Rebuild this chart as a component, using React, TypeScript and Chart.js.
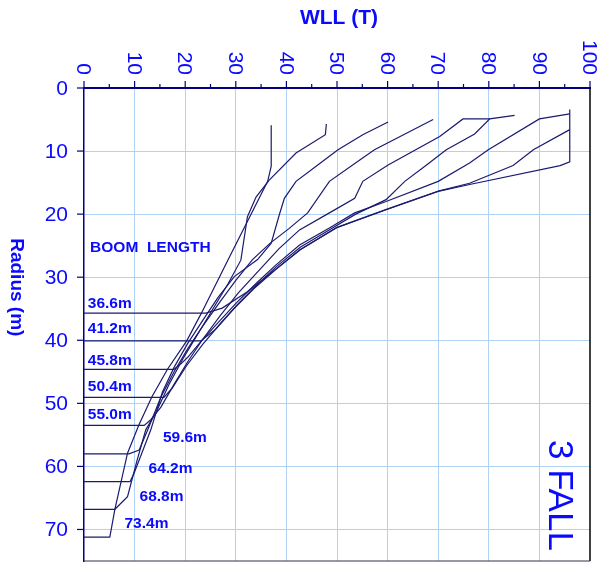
import React, { useEffect, useRef } from 'react';
import { Chart, registerables } from 'chart.js';

Chart.register(...registerables);

// ---- data ----
const boomLengths = ['36.6m', '41.2m', '45.8m', '50.4m', '55.0m', '59.6m', '64.2m', '68.8m', '73.4m'];
const xTicks = [0, 10, 20, 30, 40, 50, 60, 70, 80, 90, 100];
const yTicks = [0, 10, 20, 30, 40, 50, 60, 70];

const wll366 = [96, 96, 94.1, 76.2, 70, 59.7, 49.8, 42.6, 37.5, 32.3, 27.3, 24.1, 0];
const rad366 = [3.4, 11.7, 12.3, 15.3, 16.4, 19.3, 22.2, 25.7, 29.0, 32.3, 34.9, 35.7, 35.7];

const wll412 = [96, 88.8, 84.8, 76.2, 70.2, 59.9, 50.0, 42.8, 38.0, 33.6, 29.6, 26.1, 23.1, 0];
const rad412 = [6.6, 9.8, 12.3, 15.1, 16.3, 19.2, 22.1, 25.6, 28.7, 31.8, 35.0, 38.2, 40.1, 40.1];

const wll458 = [96, 90, 79.9, 76.2, 70, 59.7, 53.5, 48.5, 42.6, 38, 34, 30.2, 26.5, 23, 20.5, 19.2, 17.8, 0];
const rad458 = [4.1, 4.9, 9.8, 11.9, 14.8, 18, 19.8, 22.2, 24.9, 28, 31, 34, 37.2, 40.3, 42.7, 43.7, 44.6, 44.6];

const wll504 = [85.1, 80.2, 77.2, 71.6, 67.7, 63.4, 59.7, 53.7, 48.7, 42.8, 38.2, 34.2, 30.5, 27, 23.5, 20.3, 17.5, 15.8, 0];
const rad504 = [4.35, 4.9, 7.3, 9.8, 12.2, 14.8, 17.7, 20.0, 22.4, 25.2, 28.2, 31.2, 34.2, 37.3, 40.6, 44, 47.5, 49.05, 49.05];

const wll550 = [80.2, 74.9, 70.3, 60.1, 55.1, 53.5, 48.5, 42.6, 38.5, 34.5, 30.5, 27, 23.5, 20.5, 17.8, 15.2, 13.2, 11.9, 0];
const rad550 = [4.9, 4.9, 7.7, 12.2, 14.8, 17.5, 19.8, 22.5, 25.5, 29, 32.5, 36, 39.8, 43.4, 47, 50.6, 52.6, 53.5, 53.5];

const wll596 = [69.0, 57.4, 54.5, 48.5, 44.2, 40.5, 36.8, 33.3, 30.0, 26.8, 23.6, 20.6, 17.8, 15.2, 12.6, 10.9, 8.9, 0];
const rad596 = [5.0, 9.8, 11.4, 14.8, 19.8, 22.3, 24.6, 27.2, 30.5, 34, 37.6, 41.2, 45, 49, 54.2, 57.4, 58.0, 58.0];

const wll642 = [60.1, 55.1, 50.2, 46.2, 41.9, 39.6, 38.6, 37.0, 34.3, 29.7, 26.5, 23.5, 20.5, 17.8, 15.5, 13.2, 9.9, 9.1, 0];
const rad642 = [5.4, 7.4, 9.8, 12.2, 14.8, 17.5, 20.1, 24.6, 27.2, 29.9, 33.2, 36.8, 40.5, 44.3, 48.2, 54.2, 61.1, 62.4, 62.4];

const wll688 = [47.9, 47.7, 41.9, 36.6, 34.0, 32.3, 31.0, 28.5, 25.5, 22.5, 19.5, 16.8, 14.2, 12.2, 10.5, 8.6, 6.1, 0];
const rad688 = [5.7, 7.4, 10.3, 14.6, 17.3, 20.4, 27.3, 31, 35, 39, 43, 47, 51.5, 54.2, 59, 64.8, 66.8, 66.8];

const wll734 = [37.0, 37.0, 36.3, 28.5, 23.2, 20.3, 16.5, 13.4, 10.8, 8.6, 6.1, 5.1, 0];
const rad734 = [5.9, 12.4, 14.8, 27.2, 35.7, 40.1, 44.6, 49, 53.5, 57.9, 66.8, 71.2, 71.2];

const wllSeries = [wll366, wll412, wll458, wll504, wll550, wll596, wll642, wll688, wll734];
const radSeries = [rad366, rad412, rad458, rad504, rad550, rad596, rad642, rad688, rad734];

// ---- styling / annotation layout ----
const FONT = '"Liberation Sans", Arial, Helvetica, sans-serif';
const TEXT = '#0a0aff';
const LINE = '#1a1a70';
const GRID = '#b0d3f5';
const AXIS = '#000080';

// label anchors in data units (WLL, radius) of the boom-length labels
const labelAnchor: [number, number][] = [
  [0.75, 34.96], [0.75, 38.83], [0.75, 43.96], [0.75, 48.05], [0.75, 52.44],
  [15.6, 56.16], [12.76, 61.08], [10.98, 65.53], [8.0, 69.82],
];

const overlay = {
  id: 'overlay',
  afterDraw(chart: any) {
    const { ctx, chartArea: a, scales } = chart;
    const xs = scales.x;
    const ys = scales.y;
    ctx.save();
    // right & bottom frame
    ctx.strokeStyle = '#000000';
    ctx.lineWidth = 1.5;
    ctx.beginPath();
    ctx.moveTo(a.right, a.top);
    ctx.lineTo(a.right, a.bottom);
    ctx.stroke();
    ctx.strokeStyle = '#333344';
    ctx.lineWidth = 1.2;
    ctx.beginPath();
    ctx.moveTo(a.left, a.bottom);
    ctx.lineTo(a.right, a.bottom);
    ctx.stroke();

    // top axis tick marks (major + minor)
    ctx.strokeStyle = AXIS;
    ctx.lineWidth = 1.2;
    for (let i = 0; i < xTicks.length; i++) {
      const v = xTicks[i];
      const px = xs.getPixelForValue(v);
      ctx.beginPath();
      ctx.moveTo(px, a.top);
      ctx.lineTo(px, a.top - 7);
      ctx.stroke();
      if (i < xTicks.length - 1) {
        const pm = xs.getPixelForValue((v + xTicks[i + 1]) / 2);
        ctx.beginPath();
        ctx.moveTo(pm, a.top);
        ctx.lineTo(pm, a.top - 4);
        ctx.stroke();
      }
    }
    // left axis tick marks
    for (const v of yTicks) {
      const py = ys.getPixelForValue(v);
      ctx.beginPath();
      ctx.moveTo(a.left - 7, py);
      ctx.lineTo(a.left, py);
      ctx.stroke();
    }

    ctx.fillStyle = TEXT;
    // x tick labels, rotated clockwise
    ctx.font = `21px ${FONT}`;
    for (const v of xTicks) {
      ctx.save();
      ctx.translate(xs.getPixelForValue(v), a.top - 13);
      ctx.rotate(Math.PI / 2);
      ctx.textAlign = 'right';
      ctx.textBaseline = 'middle';
      ctx.fillText(String(v), 0, 1);
      ctx.restore();
    }
    // y tick labels
    ctx.textAlign = 'right';
    ctx.textBaseline = 'middle';
    for (const v of yTicks) {
      ctx.fillText(String(v), a.left - 16, ys.getPixelForValue(v) + 1);
    }

    // axis titles
    ctx.font = `bold 21px ${FONT}`;
    ctx.textAlign = 'center';
    ctx.textBaseline = 'alphabetic';
    ctx.fillText('WLL (T)', (a.left + a.right) / 2 + 2, 24);

    ctx.save();
    ctx.font = `bold 19px ${FONT}`;
    ctx.translate(16, ys.getPixelForValue(31.6));
    ctx.rotate(Math.PI / 2);
    ctx.textAlign = 'center';
    ctx.textBaseline = 'middle';
    ctx.fillText('Radius (m)', 0, 0);
    ctx.restore();

    // "3 FALL"
    ctx.save();
    ctx.font = `35px ${FONT}`;
    ctx.translate(a.right - 31, ys.getPixelForValue(64.6));
    ctx.rotate(Math.PI / 2);
    ctx.textAlign = 'center';
    ctx.textBaseline = 'middle';
    ctx.fillText('3 FALL', 0, 0);
    ctx.restore();

    // boom length labels
    ctx.font = `bold 15.5px ${FONT}`;
    ctx.textAlign = 'left';
    ctx.textBaseline = 'alphabetic';
    ctx.fillText('BOOM  LENGTH', xs.getPixelForValue(1.2), ys.getPixelForValue(25.96));
    boomLengths.forEach((lab, i) => {
      const [lx, ly] = labelAnchor[i];
      ctx.fillText(lab, xs.getPixelForValue(lx), ys.getPixelForValue(ly));
    });
    ctx.restore();
  },
};

export default function App() {
  const ref = useRef<HTMLCanvasElement | null>(null);

  useEffect(() => {
    if (!ref.current) return;
    const datasets = boomLengths.map((lab, i) => ({
      label: lab,
      data: wllSeries[i].map((w, j) => ({ x: w, y: radSeries[i][j] })),
      showLine: true,
      borderColor: LINE,
      borderWidth: 1.2,
      pointRadius: 0,
      fill: false,
      tension: 0,
    }));
    const chart = new Chart(ref.current, {
      type: 'scatter',
      data: { datasets },
      plugins: [overlay],
      options: {
        responsive: false,
        animation: false,
        devicePixelRatio: 1,
        layout: { padding: { left: 0, top: 0, right: 7, bottom: 10 } },
        plugins: { legend: { display: false }, tooltip: { enabled: false } },
        scales: {
          x: {
            type: 'linear',
            position: 'top',
            min: 0,
            max: 100,
            ticks: { stepSize: 10, display: false },
            grid: {
              drawTicks: false,
              lineWidth: 1,
              color: (c: any) => {
                const v = c.tick ? c.tick.value : 0;
                return v > 0 && v < 100 ? GRID : 'rgba(0,0,0,0)';
              },
            },
            border: { display: true, color: AXIS, width: 2 },
            afterFit: (s: any) => {
              s.height = 88;
            },
          },
          y: {
            type: 'linear',
            reverse: true,
            min: 0,
            max: 75,
            ticks: { stepSize: 10, display: false },
            grid: {
              drawTicks: false,
              lineWidth: 1,
              color: (c: any) => {
                const v = c.tick ? c.tick.value : 0;
                return v > 0 && v < 75 ? GRID : 'rgba(0,0,0,0)';
              },
            },
            border: { display: true, color: AXIS, width: 1.5 },
            afterFit: (s: any) => {
              s.width = 84;
            },
          },
        },
      },
    });
    return () => chart.destroy();
  }, []);

  return (
    <div style={{ position: 'absolute', left: 0, top: 0, width: 597, height: 571, background: '#fff' }}>
      <canvas ref={ref} width={597} height={571} />
    </div>
  );
}
